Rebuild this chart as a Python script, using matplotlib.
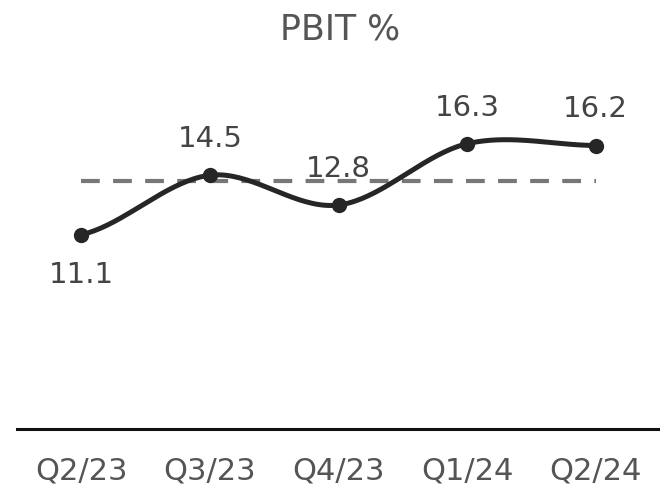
import numpy as np
import matplotlib
matplotlib.use("Agg")
import matplotlib.pyplot as plt

categories = ["Q2/23", "Q3/23", "Q4/23", "Q1/24", "Q2/24"]
values = [11.1, 14.5, 12.8, 16.3, 16.2]
labels = ["11.1", "14.5", "12.8", "16.3", "16.2"]
title = "PBIT %"

W, H = 660, 488
fig = plt.figure(figsize=(W / 100, H / 100), dpi=100)
ax_left, ax_right = 17 / W, 1.0
ax_bottom = (H - 429) / H
ax_top = (H - 61.5) / H
ax = fig.add_axes([ax_left, ax_bottom, ax_right - ax_left, ax_top - ax_bottom])

n = len(values)
x = np.arange(n)
y = np.array(values)

# Catmull-Rom style smooth curve through points
xs, ys = [], []
for i in range(n - 1):
    y0 = y[i - 1] if i > 0 else y[i]
    y3 = y[i + 2] if i + 2 < n else y[i + 1]
    m1 = (y[i + 1] - y0) / 2
    m2 = (y3 - y[i]) / 2
    t = np.linspace(0, 1, 40)
    h00 = 2 * t**3 - 3 * t**2 + 1
    h10 = t**3 - 2 * t**2 + t
    h01 = -2 * t**3 + 3 * t**2
    h11 = t**3 - t**2
    xs.append(i + t)
    ys.append(h00 * y[i] + h10 * m1 + h01 * y[i + 1] + h11 * m2)
xs = np.concatenate(xs)
ys = np.concatenate(ys)

avg = y.mean()
ax.plot([x[0], x[-1]], [avg, avg], color="#777777", lw=3, ls=(0, (4.5, 3.2)),
        solid_capstyle="butt", dash_capstyle="butt", zorder=1)
ax.plot(xs, ys, color="#262626", lw=3.6, zorder=2, solid_capstyle="round")
ax.plot(x, y, "o", color="#262626", ms=10, zorder=3)

font = "DejaVu Sans"
fs = 21
for i, (v, lab) in enumerate(zip(values, labels)):
    if i == 0:
        ax.annotate(lab, (i, v), xytext=(0, -29), textcoords="offset points",
                    ha="center", va="center", fontsize=fs, color="#444444",
                    family=font)
    else:
        ax.annotate(lab, (i, v), xytext=(0, 26), textcoords="offset points",
                    ha="center", va="center", fontsize=fs, color="#444444",
                    family=font, zorder=4)

ax.set_xlim(-0.5, n - 0.5)
ax.set_ylim(0, 21)
ax.set_xticks(x)
ax.set_xticklabels(categories, fontsize=22, color="#555555", family=font)
ax.tick_params(axis="x", length=0, pad=20)
ax.set_yticks([])
for s in ["top", "right", "left"]:
    ax.spines[s].set_visible(False)
ax.spines["bottom"].set_linewidth(2.2)
ax.spines["bottom"].set_color("#111111")
ax.patch.set_alpha(0)

fig.text(340 / W, 1 - 29 / H, title, ha="center", va="center", fontsize=25,
         color="#555555", family=font)

fig.savefig("out.png", dpi=100)
